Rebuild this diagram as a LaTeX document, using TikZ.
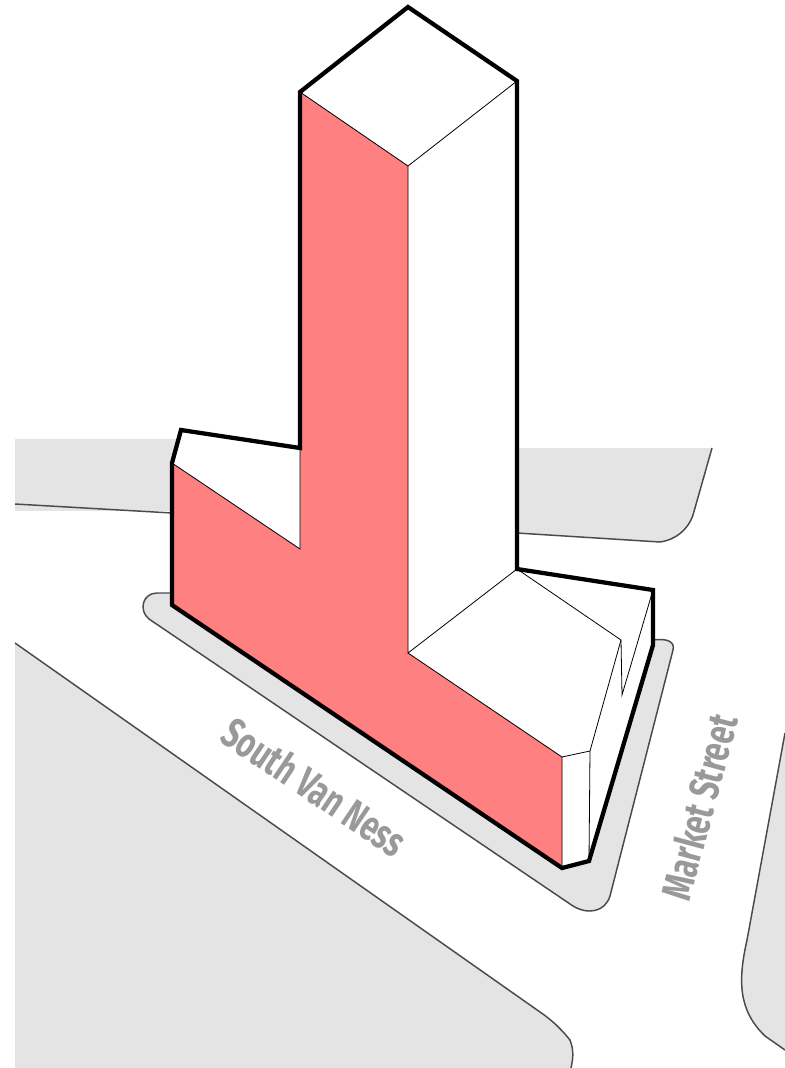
\documentclass[tikz,border=0pt]{standalone}
\usepackage{fontspec}
\usepackage{tikz}
\newfontfamily\streetfont[FakeStretch=0.72]{Fira Sans}
\definecolor{facade}{HTML}{FF8080}
\definecolor{block}{HTML}{E4E4E4}
\definecolor{curb}{HTML}{4A4A4A}
\definecolor{streetname}{HTML}{999999}

\begin{document}
\begin{tikzpicture}[
    x=0.75pt,
    y=-0.75pt,
    block_fill/.style={fill=block, draw=none},
    curb_line/.style={draw=curb, line width=1.1pt},
    edge_thin/.style={draw=black, line width=0.6pt},
    edge_thick/.style={draw=black, line width=3.2pt, line join=miter},
    street_label/.style={text=streetname, font=\streetfont\bfseries\fontsize{31.5}{31.5}\selectfont, inner sep=0pt}
]
\useasboundingbox (0,0) rectangle (785,1068);

% city blocks
\fill[block_fill] (15,439) rectangle (200,511);
\draw[curb_line] (15,504) -- (172,513);

\fill[block_fill] (500,448) -- (712,448) -- (693,515) .. controls (688,530) and (675,540) .. (660,542) -- (500,532) -- cycle;
\draw[curb_line] (712,448) -- (693,515) .. controls (688,530) and (675,540) .. (660,542) -- (517,533);

\fill[block_fill] (15,643) -- (540,1012) .. controls (552,1020) and (562,1030) .. (570,1040) .. controls (573,1048) and (574,1055) .. (571,1068) -- (15,1068) -- cycle;
\draw[curb_line] (15,643) -- (540,1012) .. controls (552,1020) and (562,1030) .. (570,1040) .. controls (573,1048) and (574,1055) .. (571,1068);

\fill[block_fill] (785,733) -- (747,940) .. controls (738,980) and (738,1010) .. (765,1036) -- (785,1050) -- cycle;
\draw[curb_line] (785,733) -- (747,940) .. controls (738,980) and (738,1010) .. (765,1036) -- (785,1050);

% sidewalk
\path[block_fill] (172,593) -- (157,593) .. controls (143,593) and (138,610) .. (149,619) -- (573,906) .. controls (588,915) and (605,912) .. (610,896) -- (673,650) .. controls (675,642) and (668,638) .. (653,640) -- cycle;
\draw[curb_line] (172,593) -- (157,593) .. controls (143,593) and (138,610) .. (149,619) -- (573,906) .. controls (588,915) and (605,912) .. (610,896) -- (673,650) .. controls (675,642) and (668,638) .. (653,640);

% tower
\fill[white] (408,7) -- (517,81) -- (517,569) -- (653,590) -- (653,645) -- (589,861) -- (562,868) -- (172,605) -- (172,463) -- (181,430) -- (300,448) -- (300,92) -- cycle;
\fill[facade] (300,92) -- (408,166) -- (408,653) -- (562,757) -- (562,868) -- (172,605) -- (172,463) -- (300,549) -- cycle;

\draw[edge_thin] (300,92) -- (408,166) -- (517,81);
\draw[edge_thin] (408,166) -- (408,653) -- (517,569) -- (621,640) -- (590,751) -- (562,757);
\draw[edge_thin] (408,653) -- (562,757) -- (562,868);
\draw[edge_thin] (590,751) -- (589,861);
\draw[edge_thin] (621,640) -- (622,695) -- (653,590);
\draw[edge_thin] (172,463) -- (300,549) -- (300,448);

\draw[edge_thick] (408,7) -- (517,81) -- (517,569) -- (653,590) -- (653,645) -- (589,861) -- (562,868) -- (172,605) -- (172,463) -- (181,430) -- (300,448) -- (300,92) -- cycle;

% street names
\node[street_label, rotate=-34] (vanness) at (315,787) {South Van Ness};
\node[street_label, rotate=75] (market) at (699,807) {Market Street};

\end{tikzpicture}
\end{document}
